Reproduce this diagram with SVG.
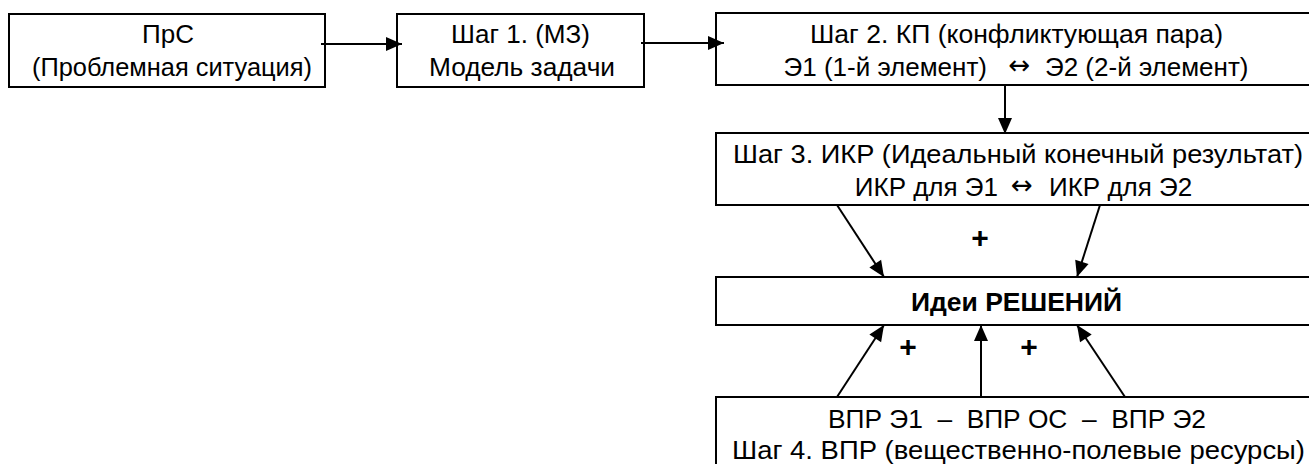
<svg xmlns="http://www.w3.org/2000/svg" width="1309" height="464" viewBox="0 0 1309 464">
<defs>
<marker id="ah" markerUnits="userSpaceOnUse" markerWidth="18" markerHeight="16" viewBox="0 0 18 16" refX="17" refY="8" orient="auto">
<path d="M1,1 L17,8 L1,15 Z" fill="#000"/>
</marker>
<style>
.box{fill:#fff;stroke:#000;stroke-width:2}
.t{font-family:"Liberation Sans",Arial,sans-serif;font-size:26px;fill:#000;text-anchor:middle;white-space:pre}
.s{text-anchor:start}
.e{text-anchor:end}
.ar{font-family:"DejaVu Sans",sans-serif;font-size:26px}
.b{font-weight:bold}
.p{font-family:"Liberation Sans",Arial,sans-serif;font-size:30px;font-weight:bold;text-anchor:middle;fill:#000}
.c{stroke:#000;stroke-width:2;fill:none;marker-end:url(#ah)}
</style>
</defs>
<rect width="1309" height="464" fill="#fff"/>
<g id="prs">
<rect class="box" x="9" y="14" width="316" height="73"/>
<text class="t" x="168" y="43">ПрС</text>
<text class="t" x="172" y="76" textLength="280" lengthAdjust="spacingAndGlyphs">(Проблемная ситуация)</text>
</g>
<g id="step1">
<rect class="box" x="397" y="14" width="247" height="73"/>
<text class="t" x="520.5" y="43" textLength="139" lengthAdjust="spacingAndGlyphs">Шаг 1. (МЗ)</text>
<text class="t" x="522" y="76" textLength="186" lengthAdjust="spacingAndGlyphs">Модель задачи</text>
</g>
<g id="step2">
<rect class="box" x="716" y="13" width="610" height="72"/>
<text class="t" x="1016.5" y="43" textLength="413" lengthAdjust="spacingAndGlyphs">Шаг 2. КП (конфликтующая пара)</text>
<text class="t e" x="987" y="76">Э1 (1-й элемент)</text>
<text class="t ar" x="1019.5" y="74">↔</text>
<text class="t s" x="1045" y="76">Э2 (2-й элемент)</text>
</g>
<g id="step3">
<rect class="box" x="716" y="133" width="610" height="72"/>
<text class="t" x="1018" y="163" textLength="570" lengthAdjust="spacingAndGlyphs">Шаг 3. ИКР (Идеальный конечный результат)</text>
<text class="t e" x="998" y="196">ИКР для Э1</text>
<text class="t ar" x="1022" y="194">↔</text>
<text class="t s" x="1049" y="196">ИКР для Э2</text>
</g>
<g id="ideas">
<rect class="box" x="716" y="277" width="610" height="48"/>
<text class="t b" x="1016.5" y="311" textLength="211" lengthAdjust="spacingAndGlyphs">Идеи РЕШЕНИЙ</text>
</g>
<g id="step4">
<rect class="box" x="716" y="397" width="610" height="72"/>
<text class="t" x="1017" y="428" textLength="378" lengthAdjust="spacingAndGlyphs">ВПР Э1  –  ВПР ОС  –  ВПР Э2</text>
<text class="t" x="1018.5" y="459" textLength="573" lengthAdjust="spacingAndGlyphs">Шаг 4. ВПР (вещественно-полевые ресурсы)</text>
</g>
<g id="connectors">
<line class="c" x1="321" y1="44" x2="402" y2="44"/>
<line class="c" x1="641" y1="43" x2="724" y2="43"/>
<line class="c" x1="1005" y1="85" x2="1005" y2="134"/>
<line class="c" x1="837" y1="205" x2="884" y2="277"/>
<line class="c" x1="1100" y1="205" x2="1077" y2="277"/>
<line class="c" x1="837" y1="397" x2="884" y2="325"/>
<line class="c" x1="981" y1="397" x2="981" y2="325"/>
<line class="c" x1="1125" y1="397" x2="1077" y2="325"/>
</g>
<g id="plus-labels">
<text class="p" x="980" y="248">+</text>
<text class="p" x="908" y="357">+</text>
<text class="p" x="1029" y="357">+</text>
</g>
</svg>
